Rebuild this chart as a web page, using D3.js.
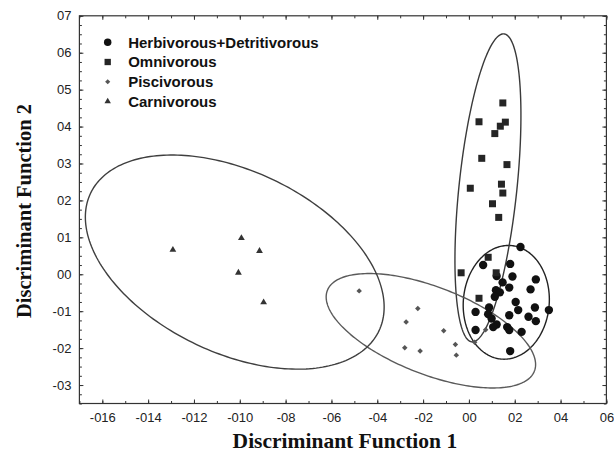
<!DOCTYPE html>
<html>
<head>
<meta charset="utf-8">
<script src="https://cdn.jsdelivr.net/npm/d3@7"></script>
<style>
  body { margin: 0; background: #fff; }
  svg { display: block; }
</style>
</head>
<body>
<svg id="chart" width="614" height="454"></svg>
<script>
// groups, in legend order
const groups = ['Herbivorous+Detritivorous', 'Omnivorous', 'Piscivorous', 'Carnivorous'];

// discriminant scores [DF1, DF2]
const herbivorous = [
  [2.25, 0.74], [0.62, 0.25], [1.80, 0.28], [1.21, -0.05], [1.90, -0.06],
  [2.92, -0.14], [1.47, -0.22], [1.76, -0.36], [1.18, -0.43], [1.35, -0.49],
  [2.69, -0.41], [1.13, -0.61], [2.04, -0.75], [2.15, -0.97], [0.88, -0.90],
  [2.88, -0.90], [3.49, -0.97], [0.29, -1.02], [1.76, -1.11], [2.60, -1.15],
  [0.84, -1.08], [2.92, -1.27], [0.99, -1.20], [1.21, -1.36], [1.06, -1.43],
  [0.29, -1.51], [1.67, -1.43], [1.76, -1.51], [2.30, -1.56], [1.80, -2.08]
];
const omnivorous = [
  [1.48, 4.64], [0.44, 4.13], [1.59, 4.12], [1.37, 4.01], [1.13, 3.81],
  [0.56, 3.14], [1.66, 2.97], [0.06, 2.33], [1.42, 2.44], [1.48, 2.20],
  [1.03, 1.91], [1.30, 1.54], [0.84, 0.46], [1.19, 0.04], [-0.34, 0.04],
  [0.44, -0.65]
];
const piscivorous = [
  [-4.79, -0.45], [-2.23, -0.93], [-2.74, -1.29], [-1.10, -1.53], [-2.80, -1.99],
  [-2.13, -2.08], [-0.59, -1.90], [-0.55, -2.19], [0.25, -1.84], [0.73, -1.50]
];
const carnivorous = [
  [-12.92, 0.66], [-9.93, 0.98], [-9.14, 0.63], [-10.06, 0.04], [-8.96, -0.76]
];

// confidence ellipses per group: centre, half extents, correlation
const ellCx = [1.63, 0.83, -1.66, -10.22];
const ellCy = [-0.76, 2.34, -1.53, 0.33];
const ellSx = [1.88, 1.44, 4.57, 6.52];
const ellSy = [1.54, 4.17, 1.55, 2.90];
const ellRho = [0.05, 0.47, -0.59, -0.42];

const xTicks = d3.range(-16, 7, 2);
const xTickLabels = ['-016', '-014', '-012', '-010', '-08', '-06', '-04', '-02', '00', '02', '04', '06'];
const yTicks = d3.range(-3, 8, 1);
const yTickLabels = ['-03', '-02', '-01', '00', '01', '02', '03', '04', '05', '06', '07'];

const svg = d3.select('#chart');
const margin = { left: 79.4, right: 7.6, top: 15.8, bottom: 50.5 };
const width = 614, height = 454;
const innerW = width - margin.left - margin.right;
const innerH = height - margin.top - margin.bottom;

const x = d3.scaleLinear().domain([-17, 6]).range([0, innerW]);
const y = d3.scaleLinear().domain([-3.5, 7]).range([innerH, 0]);

const g = svg.append('g').attr('transform', `translate(${margin.left},${margin.top})`);

// ellipses
const ellipseLine = d3.line()
  .x(d => x(d[0]))
  .y(d => y(d[1]))
  .curve(d3.curveLinearClosed);
const ellColors = ['#222', '#3a3a3a', '#5a5a5a', '#3f3f3f'];
groups.forEach((name, i) => {
  const pts = d3.range(0, 2 * Math.PI, Math.PI / 120).map(t => [
    ellCx[i] + ellSx[i] * Math.cos(t),
    ellCy[i] + ellSy[i] * (ellRho[i] * Math.cos(t) + Math.sqrt(1 - ellRho[i] * ellRho[i]) * Math.sin(t))
  ]);
  g.append('path')
    .attr('d', ellipseLine(pts))
    .attr('fill', 'none')
    .attr('stroke', ellColors[i])
    .attr('stroke-width', 1.4);
});

// markers
const symbols = [
  { type: d3.symbolCircle, size: 55, rotate: 0, color: '#111' },
  { type: d3.symbolSquare, size: 49, rotate: 0, color: '#252525' },
  { type: d3.symbolSquare, size: 15, rotate: 45, color: '#555' },
  { type: d3.symbolTriangle, size: 20, rotate: 0, color: '#333' }
];
const groupData = [herbivorous, omnivorous, piscivorous, carnivorous];
groupData.forEach((data, i) => {
  const s = symbols[i];
  g.append('g').selectAll('path')
    .data(data)
    .join('path')
    .attr('d', d3.symbol().type(s.type).size(s.size))
    .attr('transform', d => `translate(${x(d[0])},${y(d[1])}) rotate(${s.rotate})`)
    .attr('fill', s.color);
});

// axes with inward ticks on all four sides
function styleAxis(sel) {
  sel.select('.domain').remove();
  sel.selectAll('line').attr('stroke', '#333');
  sel.selectAll('text').attr('fill', '#222')
    .style('font-family', '"Liberation Sans", Arial, sans-serif')
    .style('font-size', '13px');
}
const xMinor = d3.range(-17, 6.01, 1);
const yMinor = d3.range(-3.5, 7.01, 0.25);

g.append('g').attr('transform', `translate(0,${innerH})`)
  .call(d3.axisBottom(x).tickValues(xMinor).tickSize(-2.5).tickFormat(''))
  .call(styleAxis);
g.append('g').attr('transform', `translate(0,${innerH})`)
  .call(d3.axisBottom(x).tickValues(xTicks).tickSize(-4).tickPadding(9)
    .tickFormat((d, i) => xTickLabels[i]))
  .call(styleAxis);
g.append('g')
  .call(d3.axisTop(x).tickValues(xMinor).tickSize(-2.5).tickFormat(''))
  .call(styleAxis);
g.append('g')
  .call(d3.axisTop(x).tickValues(xTicks).tickSize(-4).tickFormat(''))
  .call(styleAxis);

g.append('g')
  .call(d3.axisLeft(y).tickValues(yMinor).tickSize(-2.5).tickFormat(''))
  .call(styleAxis);
g.append('g')
  .call(d3.axisLeft(y).tickValues(yTicks).tickSize(-4).tickPadding(8)
    .tickFormat((d, i) => yTickLabels[i]))
  .call(styleAxis);
g.append('g').attr('transform', `translate(${innerW},0)`)
  .call(d3.axisRight(y).tickValues(yMinor).tickSize(-2.5).tickFormat(''))
  .call(styleAxis);
g.append('g').attr('transform', `translate(${innerW},0)`)
  .call(d3.axisRight(y).tickValues(yTicks).tickSize(-4).tickFormat(''))
  .call(styleAxis);

// frame
g.append('rect')
  .attr('width', innerW)
  .attr('height', innerH)
  .attr('fill', 'none')
  .attr('stroke', '#333')
  .attr('stroke-width', 1.2);

// axis titles
svg.append('text')
  .attr('x', margin.left + innerW / 2 + 2)
  .attr('y', 448)
  .attr('text-anchor', 'middle')
  .style('font-family', '"Liberation Serif", "Times New Roman", serif')
  .style('font-weight', 'bold')
  .style('font-size', '21.5px')
  .attr('fill', '#111')
  .text('Discriminant Function 1');

svg.append('text')
  .attr('transform', 'translate(31,211) rotate(-90)')
  .attr('text-anchor', 'middle')
  .style('font-family', '"Liberation Serif", "Times New Roman", serif')
  .style('font-weight', 'bold')
  .style('font-size', '20.5px')
  .attr('fill', '#111')
  .text('Discriminant Function 2');

// legend
const legendSymbols = [
  { type: d3.symbolCircle, size: 44, rotate: 0, color: '#111' },
  { type: d3.symbolSquare, size: 40, rotate: 0, color: '#252525' },
  { type: d3.symbolSquare, size: 13, rotate: 45, color: '#555' },
  { type: d3.symbolTriangle, size: 18, rotate: 0, color: '#333' }
];
const legend = svg.append('g').attr('transform', 'translate(107.7,42.3)');
groups.forEach((name, i) => {
  const row = legend.append('g').attr('transform', `translate(0,${i * 19.7})`);
  row.append('path')
    .attr('d', d3.symbol().type(legendSymbols[i].type).size(legendSymbols[i].size))
    .attr('transform', `rotate(${legendSymbols[i].rotate})`)
    .attr('fill', legendSymbols[i].color);
  row.append('text')
    .attr('x', 20.5)
    .attr('dy', '0.36em')
    .style('font-family', '"Liberation Sans", Arial, sans-serif')
    .style('font-weight', 'bold')
    .style('font-size', '15px')
    .attr('fill', '#111')
    .text(name);
});
</script>
</body>
</html>
